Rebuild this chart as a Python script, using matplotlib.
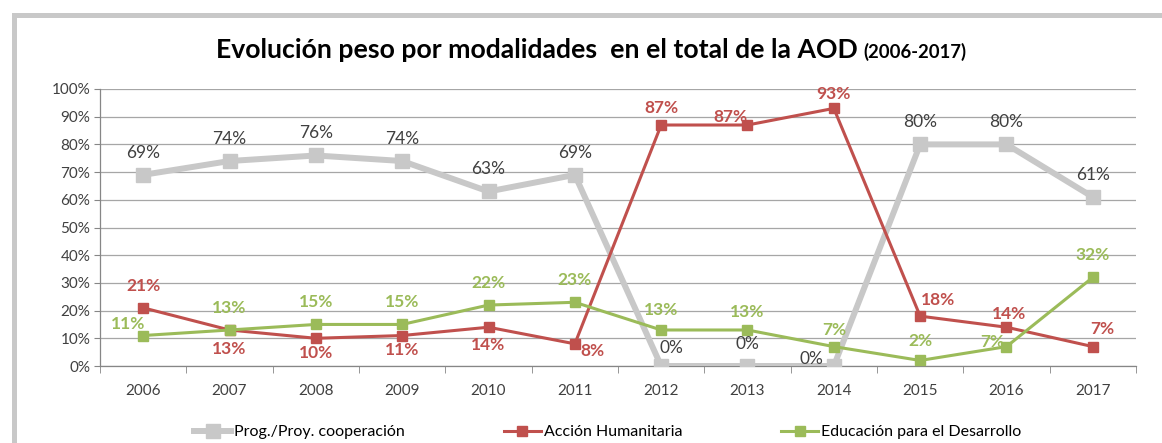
import matplotlib.pyplot as plt
from matplotlib.patches import Rectangle

# data (percent)
years = ['2006', '2007', '2008', '2009', '2010', '2011',
         '2012', '2013', '2014', '2015', '2016', '2017']
prog_coop = [69, 74, 76, 74, 63, 69, 0, 0, 0, 80, 80, 61]
accion_hum = [21, 13, 10, 11, 14, 8, 87, 87, 93, 18, 14, 7]
educacion = [11, 13, 15, 15, 22, 23, 13, 13, 7, 2, 7, 32]

series_names = ['Prog./Proy. cooperación', 'Acción Humanitaria',
                'Educación para el Desarrollo']

GRAY = '#C8C8C8'
RED = '#C0504D'
GREEN = '#9BBB59'
TXT = '#404040'

plt.rcParams['font.family'] = ['Lato', 'DejaVu Sans']

W, H = 1162, 443
fig = plt.figure(figsize=(W / 100, H / 100), dpi=100)
fig.patch.set_facecolor('white')

# grey frame of the original chart box (top and left edges visible)
fig.add_artist(Rectangle((12 / W, 0), 5 / W, (H - 13) / H,
                         transform=fig.transFigure, color=GRAY, lw=0))
fig.add_artist(Rectangle((12 / W, (H - 18) / H), 1, 5 / H,
                         transform=fig.transFigure, color=GRAY, lw=0))

ax = fig.add_axes([100 / W, 77 / H, 1036 / W, 277 / H])
x = list(range(len(years)))

ax.plot(x, prog_coop, color=GRAY, lw=4.3, marker='s', ms=9.5,
        label=series_names[0], zorder=3)
ax.plot(x, accion_hum, color=RED, lw=2.2, marker='s', ms=7,
        label=series_names[1], zorder=4)
ax.plot(x, educacion, color=GREEN, lw=2.2, marker='s', ms=7,
        label=series_names[2], zorder=5)

ax.set_xlim(-0.5, len(years) - 0.5)
ax.set_ylim(0, 100)
ax.set_yticks(range(0, 101, 10))
ax.set_yticklabels([f'{v}%' for v in range(0, 101, 10)])
ax.set_xticks(x)
ax.set_xticklabels(years)
ax.set_xticks([i - 0.5 for i in range(len(years) + 1)], minor=True)
ax.tick_params(axis='x', which='major', length=0, pad=13,
               labelsize=11, labelcolor=TXT)
ax.tick_params(axis='x', which='minor', length=5, color='#868686',
               direction='out')
ax.tick_params(axis='y', length=4, color='#868686', labelsize=11,
               labelcolor=TXT, pad=3)
ax.grid(axis='y', color='#A6A6A6', lw=0.9, zorder=0)
for s in ['top', 'right']:
    ax.spines[s].set_visible(False)
for s in ['left', 'bottom']:
    ax.spines[s].set_color('#868686')
    ax.spines[s].set_linewidth(0.9)

# data labels, default sits above the point; some moved like in the source
default_off = (0, 22)
gray_off = {6: (10, 18), 7: (0, 22), 8: (-22, 7)}
red_off = {1: (0, -19), 2: (0, -15), 3: (0, -14), 4: (0, -18), 5: (18, -7),
           6: (0, 17), 7: (-17, 8), 8: (0, 14), 9: (18, 16), 10: (3, 13),
           11: (9, 18)}
green_off = {0: (-15, 12), 10: (-14, 5), 6: (0, 20), 7: (0, 18),
             8: (0, 17), 9: (0, 19)}

for vals, col, offs, weight in [(prog_coop, TXT, gray_off, 'normal'),
                                (accion_hum, RED, red_off, 'bold'),
                                (educacion, GREEN, green_off, 'bold')]:
    for i, v in enumerate(vals):
        dx, dy = offs.get(i, default_off)
        ax.annotate(f'{v}%', (i, v), xytext=(dx, dy),
                    textcoords='offset pixels', ha='center', va='center',
                    fontsize=12.5, color=col, fontweight=weight, zorder=6)

ax.legend(loc='center', bbox_to_anchor=(608 / W, 11 / H),
          bbox_transform=fig.transFigure, ncol=3, frameon=False,
          fontsize=11.5, handlelength=2.3, handletextpad=0.2,
          columnspacing=6.2, labelcolor='#000000')

# title in two sizes
t1 = fig.text(0, (H - 58) / H, 'Evolución peso por modalidades  en el total de la AOD',
              fontsize=19.2, fontweight='bold', va='baseline', ha='left')
t2 = fig.text(0, (H - 58) / H, '(2006-2017)', fontsize=13.3,
              fontweight='bold', va='baseline', ha='left')
fig.canvas.draw()
w1 = t1.get_window_extent().width
w2 = t2.get_window_extent().width
gap = 5
x0 = 591 - (w1 + gap + w2) / 2
t1.set_x(x0 / W)
t2.set_x((x0 + w1 + gap) / W)

fig.savefig('out.png', dpi=100)
